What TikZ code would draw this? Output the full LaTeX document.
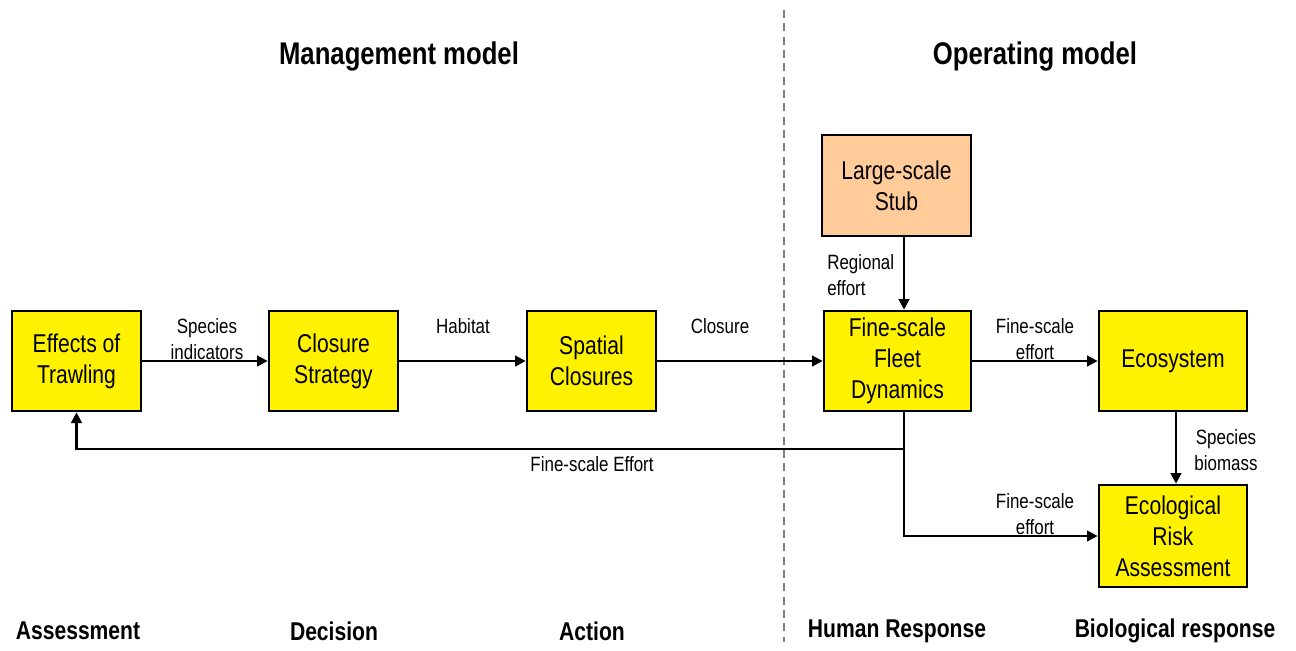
\documentclass[tikz,border=0pt]{standalone}
\usepackage{fontspec}
\setmainfont{Liberation Sans}[FakeStretch=0.82]
\usetikzlibrary{arrows.meta}
\definecolor{peach}{HTML}{FFCC99}
\definecolor{dashgray}{HTML}{7F7F7F}
\begin{document}
\begin{tikzpicture}[x=0.75pt,y=-0.75pt,
  box/.style={draw=black,line width=2pt,fill=yellow,minimum width=96.75pt,minimum height=75pt,
    align=center,font=\fontsize{19.3}{23.3}\selectfont,inner sep=0pt},
  lbl/.style={align=center,font=\fontsize{15.5}{19.5}\selectfont,inner sep=0pt},
  title/.style={font=\fontsize{23.5}{28}\selectfont\bfseries,inner sep=0pt},
  stage/.style={font=\fontsize{19.3}{23}\selectfont\bfseries,inner sep=0pt},
  arr/.style={line width=1.8pt,-{Triangle[length=8pt,width=8pt]}},
  ln/.style={line width=1.8pt}
]
\useasboundingbox (0,0) rectangle (1296,650);
\draw[dashgray,line width=1.2pt,dash pattern=on 6pt off 4pt] (784,10) coordinate (d1) -- (784,642) coordinate (d2);

\node[title] (tm) at (399,56) {Management model};
\node[title] (to) at (1035,56) {Operating model};

\node[box] (eff) at (76.5,361) {Effects of\\Trawling};
\node[box] (cs) at (333.5,361) {Closure\\Strategy};
\node[box] (sc) at (591.5,361) {Spatial\\Closures};
\node[box,fill=peach,minimum width=111.75pt,minimum height=75.75pt] (stub) at (896.5,185.5) {Large-scale\\Stub};
\node[box,minimum width=110.25pt] (fleet) at (897.5,361) {Fine-scale\\Fleet\\Dynamics};
\node[box,minimum width=111pt] (eco) at (1173,361) {Ecosystem};
\node[box,minimum width=111pt,minimum height=76.5pt] (risk) at (1173,536) {Ecological\\Risk\\Assessment};

\coordinate (fx) at (904,0);
\coordinate (j) at (904,449);
\coordinate (ex) at (1176,0);

\draw[arr] (eff) -- (cs);
\draw[arr] (cs) -- (sc);
\draw[arr] (sc) -- (fleet);
\draw[arr] (fleet) -- (eco);
\draw[arr] (stub.south -| fx) -- (fleet.north -| fx);
\draw[arr] (eco.south -| ex) -- (risk.north -| ex);
\draw[ln] (fleet.south -| fx) -- (j);
\draw[arr] (j) -- (j -| eff) -- (eff.south);
\draw[arr] (j) |- (risk.west);

\node[lbl] (l1) at (207,339) {Species\\indicators};
\node[lbl] (l2) at (463,326) {Habitat};
\node[lbl] (l3) at (720,326) {Closure};
\node[lbl,align=left,anchor=west] (l4) at (827,275) {Regional\\effort};
\node[lbl] (l5) at (1035,339) {Fine-scale\\effort};
\node[lbl] (l6) at (1226,450) {Species\\biomass};
\node[lbl] (l7) at (1035,514) {Fine-scale\\effort};
\node[lbl] (l8) at (592,464) {Fine-scale Effort};

\node[stage] (s1) at (78,631) {Assessment};
\node[stage] (s2) at (334,631) {Decision};
\node[stage] (s3) at (592,631) {Action};
\node[stage] (s4) at (897,631) {Human Response};
\node[stage] (s5) at (1175,631) {Biological response};
\end{tikzpicture}
\end{document}
